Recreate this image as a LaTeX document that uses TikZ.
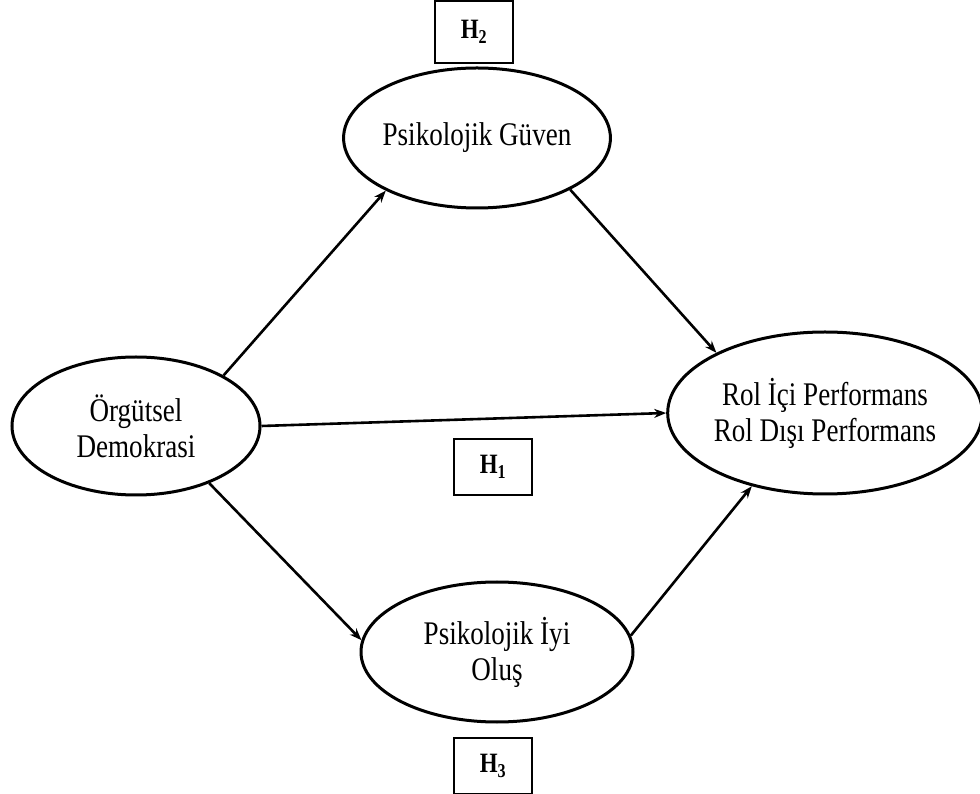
\documentclass[tikz,border=0pt]{standalone}
\usepackage{fontspec}
\setmainfont{Liberation Serif}[FakeStretch=0.82]
\usetikzlibrary{shapes.geometric,arrows.meta}
\begin{document}
\begin{tikzpicture}[x=1pt,y=1pt,line width=2.6pt,>={Stealth[length=12pt,width=9pt]},
  latent/.style={draw,ellipse,line width=3pt,inner sep=0pt,align=center,font=\fontsize{33}{36}\selectfont},
  hyp/.style={draw,rectangle,line width=2pt,minimum width=78pt,font=\fontsize{28}{30}\selectfont\bfseries}]
\useasboundingbox (0,0) rectangle (980,793);
\node[latent,minimum width=248pt,minimum height=138pt] (od) at (136,367) {Örgütsel\\Demokrasi};
\node[latent,minimum width=264pt,minimum height=140pt] (pg) at (477,655) {Psikolojik Güven};
\node[latent,minimum width=272pt,minimum height=140pt] (pi) at (497,141) {Psikolojik İyi\\Oluş};
\node[latent,minimum width=306pt,minimum height=162pt] (rp) at (825,380) {Rol İçi Performans\\Rol Dışı Performans};
\node[hyp,minimum height=62pt] (h2) at (474,761) {H\textsubscript{2}};
\node[hyp,minimum height=56pt] (h1) at (493,326) {H\textsubscript{1}};
\node[hyp,minimum height=56pt] (h3) at (493,27) {H\textsubscript{3}};
\draw[->] (od.30) -- (pg.210);
\draw[->] (pg.-29) -- (rp.151);
\draw[->] (od.0) -- (rp.180);
\draw[->] (od.-38) -- (pi.175);
\draw[->] (pi.7) -- (rp.225);
\end{tikzpicture}
\end{document}
